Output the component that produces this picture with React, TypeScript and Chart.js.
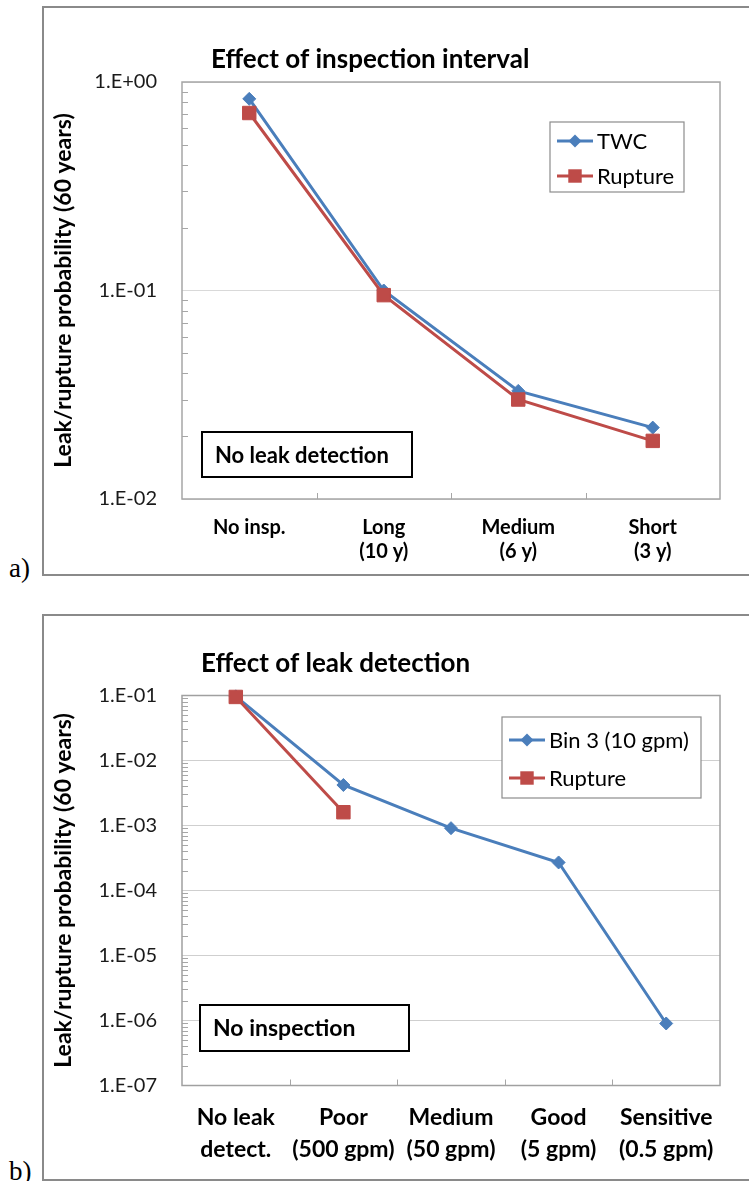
import React, { useEffect, useRef } from "react";
import { Chart, registerables } from "chart.js";

Chart.register(...registerables);

// ---------- data: chart a ----------
const categoriesA: (string | string[])[] = ["No insp.", ["Long", "(10 y)"], ["Medium", "(6 y)"], ["Short", "(3 y)"]];
const twcA = [0.83, 0.1, 0.033, 0.022];
const ruptureA = [0.71, 0.095, 0.03, 0.019];
const tickValuesA = [0.01, 0.1, 1];
const tickLabelsA = ["1.E-02", "1.E-01", "1.E+00"];

// ---------- data: chart b ----------
const categoriesB: (string | string[])[] = [
  ["No leak", "detect."],
  ["Poor", "(500 gpm)"],
  ["Medium", "(50 gpm)"],
  ["Good", "(5 gpm)"],
  ["Sensitive", "(0.5 gpm)"],
];
const bin3B = [0.097, 0.0042, 0.00091, 0.00027, 0.0000009];
const ruptureB = [0.095, 0.0016, null, null, null];
const tickValuesB = [1e-7, 1e-6, 1e-5, 1e-4, 1e-3, 1e-2, 1e-1];
const tickLabelsB = ["1.E-07", "1.E-06", "1.E-05", "1.E-04", "1.E-03", "1.E-02", "1.E-01"];

const FONT = "Lato, 'Noto Sans', sans-serif";
const BLUE = "#4a7ebb";
const RED = "#be4b48";

function drawMarker(ctx: CanvasRenderingContext2D, style: string, cx: number, cy: number, r: number, color: string) {
  ctx.fillStyle = color;
  ctx.beginPath();
  if (style === "rectRot") {
    ctx.moveTo(cx, cy - r);
    ctx.lineTo(cx + r, cy);
    ctx.lineTo(cx, cy + r);
    ctx.lineTo(cx - r, cy);
    ctx.closePath();
  } else {
    const s = r * Math.SQRT1_2;
    ctx.rect(cx - s, cy - s, 2 * s, 2 * s);
  }
  ctx.fill();
}

const decorPlugin = {
  id: "decor",
  beforeDatasetsDraw(chart: any, _args: any, opts: any) {
    const { ctx, chartArea: ca, scales } = chart;
    const xs = scales.x;
    const ys = scales.y;
    ctx.save();
    // minor ticks on the value axis
    ctx.strokeStyle = "#a6a6a6";
    ctx.lineWidth = 1;
    const lo = Math.round(Math.log10(ys.min));
    const hi = Math.round(Math.log10(ys.max));
    for (let k = lo; k < hi; k++) {
      for (let m = 2; m <= 9; m++) {
        const py = Math.round(ys.getPixelForValue(m * Math.pow(10, k))) + 0.5;
        ctx.beginPath();
        ctx.moveTo(ca.left, py);
        ctx.lineTo(ca.left + 6, py);
        ctx.stroke();
      }
    }
    // category boundary ticks
    const n = chart.data.labels.length;
    for (let i = 0; i < n - 1; i++) {
      const px = Math.round((xs.getPixelForValue(i) + xs.getPixelForValue(i + 1)) / 2) + 0.5;
      ctx.beginPath();
      ctx.moveTo(px, ca.bottom);
      ctx.lineTo(px, ca.bottom - 6);
      ctx.stroke();
    }
    // plot frame
    ctx.strokeStyle = opts.frameColor;
    ctx.lineWidth = 1.5;
    ctx.strokeRect(ca.left, ca.top, ca.right - ca.left, ca.bottom - ca.top);
    ctx.restore();
  },
  afterDraw(chart: any, _args: any, opts: any) {
    const { ctx } = chart;
    ctx.save();
    // title
    const t = opts.title;
    ctx.fillStyle = "#000";
    ctx.font = `bold ${t.size}px ${FONT}`;
    ctx.textBaseline = "alphabetic";
    ctx.textAlign = "left";
    ctx.fillText(t.text, t.x, t.y);
    // legend
    const lg = opts.legend;
    ctx.fillStyle = "#fff";
    ctx.fillRect(lg.x, lg.y, lg.w, lg.h);
    ctx.strokeStyle = "#8c8c8c";
    ctx.lineWidth = 1.2;
    ctx.strokeRect(lg.x, lg.y, lg.w, lg.h);
    ctx.font = `${lg.size}px ${FONT}`;
    ctx.textBaseline = "middle";
    chart.data.datasets.forEach((ds: any, i: number) => {
      const ry = lg.rows[i];
      ctx.strokeStyle = ds.borderColor;
      ctx.lineWidth = 3;
      ctx.beginPath();
      ctx.moveTo(lg.x0, ry);
      ctx.lineTo(lg.x1, ry);
      ctx.stroke();
      drawMarker(ctx, ds.pointStyle, (lg.x0 + lg.x1) / 2, ry, ds.pointRadius, ds.backgroundColor);
      ctx.fillStyle = "#000";
      ctx.fillText(ds.label, lg.tx, ry + 1);
    });
    // note box
    const nt = opts.note;
    ctx.fillStyle = "#fff";
    ctx.fillRect(nt.x, nt.y, nt.w, nt.h);
    ctx.strokeStyle = "#000";
    ctx.lineWidth = 2;
    ctx.strokeRect(nt.x, nt.y, nt.w, nt.h);
    ctx.fillStyle = "#000";
    ctx.font = `bold ${nt.size}px ${FONT}`;
    ctx.textBaseline = "middle";
    ctx.fillText(nt.text, nt.tx, nt.y + nt.h / 2 + 1);
    ctx.restore();
  },
};

function makeConfig(p: {
  labels: (string | string[])[];
  series: { label: string; data: (number | null)[]; color: string; style: string; radius: number; order: number }[];
  min: number;
  max: number;
  tickValues: number[];
  tickLabels: string[];
  yWidth: number;
  xHeight: number;
  padTop: number;
  padRight: number;
  xFont: number;
  xLineHeight: number;
  xPad: number;
  gridColor: string;
  decor: any;
}) {
  return {
    type: "line" as const,
    data: {
      labels: p.labels,
      datasets: p.series.map((s) => ({
        label: s.label,
        data: s.data,
        borderColor: s.color,
        backgroundColor: s.color,
        borderWidth: 3,
        pointStyle: s.style,
        pointRadius: s.radius,
        pointBorderWidth: 1,
        pointBorderColor: s.color,
        pointBackgroundColor: s.color,
        tension: 0,
        order: s.order,
        clip: false as any,
        spanGaps: false,
      })),
    },
    options: {
      responsive: false,
      devicePixelRatio: 1,
      animation: false as const,
      events: [],
      layout: { padding: { left: 0, top: p.padTop, right: p.padRight, bottom: 0 } },
      plugins: {
        legend: { display: false },
        tooltip: { enabled: false },
        title: { display: false },
        decor: p.decor,
      },
      scales: {
        x: {
          type: "category" as const,
          offset: true,
          grid: { display: false, drawTicks: false, tickLength: 0 },
          border: { display: false },
          ticks: {
            autoSkip: false,
            maxRotation: 0,
            minRotation: 0,
            padding: p.xPad,
            color: "#000",
            font: { family: FONT, size: p.xFont, weight: "bold" as const, lineHeight: p.xLineHeight },
          },
          afterFit: (scale: any) => {
            scale.height = p.xHeight;
          },
        },
        y: {
          type: "logarithmic" as const,
          min: p.min,
          max: p.max,
          grid: { color: p.gridColor, lineWidth: 1, drawTicks: false, tickLength: 0 },
          border: { display: false },
          afterBuildTicks: (scale: any) => {
            scale.ticks = p.tickValues.map((v) => ({ value: v, major: true }));
          },
          ticks: {
            padding: 25,
            color: "#1a1a1a",
            font: { family: FONT, size: 20 },
            callback: (v: any) => {
              const idx = p.tickValues.findIndex((t) => Math.abs(Math.log10(t) - Math.log10(v)) < 1e-6);
              return idx >= 0 ? p.tickLabels[idx] : "";
            },
          },
          title: {
            display: true,
            text: "Leak/rupture probability (60 years)",
            color: "#000",
            font: { family: FONT, size: 23, weight: "bold" as const, lineHeight: 1.2 },
            padding: { top: 6, bottom: 0 },
          },
          afterFit: (scale: any) => {
            scale.width = p.yWidth;
          },
        },
      },
    },
    plugins: [decorPlugin],
  };
}

function ChartCanvas({ config, left, top, width, height }: { config: any; left: number; top: number; width: number; height: number }) {
  const ref = useRef<HTMLCanvasElement | null>(null);
  useEffect(() => {
    if (!ref.current) return;
    const chart = new Chart(ref.current, config);
    return () => chart.destroy();
  }, [config]);
  return (
    <canvas
      ref={ref}
      width={width}
      height={height}
      style={{ position: "absolute", left, top, width, height, display: "block" }}
    />
  );
}

const configA = makeConfig({
  labels: categoriesA,
  series: [
    { label: "TWC", data: twcA, color: BLUE, style: "rectRot", radius: 6.5, order: 2 },
    { label: "Rupture", data: ruptureA, color: RED, style: "rect", radius: 9.5, order: 1 },
  ],
  min: 0.01,
  max: 1,
  tickValues: tickValuesA,
  tickLabels: tickLabelsA,
  yWidth: 138,
  xHeight: 75,
  padTop: 74,
  padRight: 29,
  xFont: 20,
  xLineHeight: 1.2,
  xPad: 17,
  gridColor: "#d9d9d9",
  decor: {
    frameColor: "#a6a6a6",
    title: { text: "Effect of inspection interval", x: 167, y: 60, size: 26 },
    legend: { x: 506, y: 114, w: 134, h: 70, rows: [133, 168], x0: 513, x1: 549, tx: 553, size: 22 },
    note: { text: "No leak detection", x: 158, y: 424, w: 210, h: 45, tx: 171, size: 22 },
  },
});

const configB = makeConfig({
  labels: categoriesB,
  series: [
    { label: "Bin 3 (10 gpm)", data: bin3B, color: BLUE, style: "rectRot", radius: 6.5, order: 2 },
    { label: "Rupture", data: ruptureB, color: RED, style: "rect", radius: 9.5, order: 1 },
  ],
  min: 1e-7,
  max: 1e-1,
  tickValues: tickValuesB,
  tickLabels: tickLabelsB,
  yWidth: 138,
  xHeight: 93.5,
  padTop: 79.5,
  padRight: 29,
  xFont: 23,
  xLineHeight: 1.4,
  xPad: 16,
  gridColor: "#cfcfcf",
  decor: {
    frameColor: "#a0a0a0",
    title: { text: "Effect of leak detection", x: 157, y: 56, size: 26 },
    legend: { x: 458, y: 101, w: 199, h: 81, rows: [124, 162], x0: 465, x1: 501, tx: 505, size: 22 },
    note: { text: "No inspection", x: 156, y: 389, w: 209, h: 46, tx: 169, size: 23 },
  },
});

export default function App() {
  const boxStyle: React.CSSProperties = {
    position: "absolute",
    left: 42,
    width: 760,
    border: "2px solid #8a8a8a",
    boxSizing: "border-box",
  };
  const labelStyle: React.CSSProperties = {
    position: "absolute",
    left: 9,
    fontFamily: "'Liberation Serif', 'DejaVu Serif', serif",
    fontSize: 27,
    lineHeight: "27px",
    color: "#000",
    whiteSpace: "nowrap",
  };
  return (
    <div
      style={{
        position: "absolute",
        left: 0,
        top: 0,
        width: 749,
        height: 1181,
        overflow: "hidden",
        background: "#fff",
      }}
    >
      <div style={{ ...boxStyle, top: 6, height: 570 }} />
      <div style={{ ...boxStyle, top: 614, height: 567 }} />
      <ChartCanvas config={configA} left={44} top={8} width={705} height={566} />
      <ChartCanvas config={configB} left={44} top={616} width={705} height={563} />
      <div style={{ ...labelStyle, top: 555 }}>a)</div>
      <div style={{ ...labelStyle, top: 1158 }}>b)</div>
    </div>
  );
}
